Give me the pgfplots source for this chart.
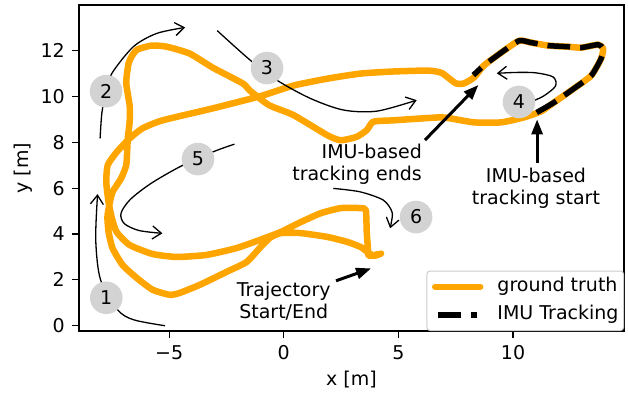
\documentclass[border=0pt]{standalone}
\usepackage{fontspec}
\setmainfont{DejaVu Sans}
\usepackage{pgfplots}
\pgfplotsset{compat=1.18}
\usetikzlibrary{arrows.meta}
\definecolor{gtorange}{HTML}{FFA500}
\definecolor{circgray}{HTML}{D3D3D3}
\definecolor{legedge}{HTML}{CCCCCC}
\newcommand\fs{\fontsize{19}{22}\selectfont}
\pgfplotsset{imu legend/.style={legend image code/.code={\draw[##1] (2.7pt,0pt) -- (42pt,0pt); \path (0pt,0pt) (59pt,0pt);}}}

\begin{document}
\begin{tikzpicture}
\begin{axis}[name=ax, width=545pt, height=326pt, scale only axis,
  xmin=-8.93, xmax=14.84, ymin=-0.23, ymax=13.99,
  axis line style={line width=1.2pt},
  tick align=outside, tick pos=left, major tick length=7pt,
  every tick/.style={black, line width=1.2pt},
  xtick={-5,0,5,10}, xticklabels={−5,0,5,10},
  ytick={0,2,4,6,8,10,12}, yticklabels={0,2,4,6,8,10,12},
  tick label style={font=\fs},
  xticklabel style={anchor=north, inner sep=0pt, yshift=-7pt},
  yticklabel style={anchor=east, inner sep=0pt, xshift=-7pt},
  xlabel={x [m]}, ylabel={y [m]},
  every axis x label/.style={at={(axis description cs:0.5,0)}, anchor=center, yshift=-49pt, font=\fs},
  every axis y label/.style={at={(axis description cs:0,0.5)}, anchor=center, rotate=90, yshift=55.5pt, font=\fs},
  legend style={at={(1,0)}, anchor=south east, draw=legedge, line width=1pt, rounded corners=3pt, fill=white,
    inner xsep=5pt, inner ysep=6.5pt, row sep=9.5pt, font=\fs,
    nodes={inner sep=0pt, text height=14pt, text depth=4.5pt}},
  legend cell align=left,
  legend image code/.code={\draw[#1] (0pt,0pt) -- (45pt,0pt); \path (59pt,0pt);},
]
% ground truth trajectory
\addplot[gtorange, line width=6.5pt, line join=round, line cap=round, smooth, tension=0.35] coordinates {
(4.25,3.15) (3.95,3.05) (3.71,3.17) (3.36,3.43) (2.79,3.65) (1.92,3.87) (0.74,4.04) (-0.13,4.04)
(-0.61,3.83) (-1.05,3.39) (-1.62,2.78) (-2.49,2.35) (-3.67,1.78) (-4.54,1.43) (-4.98,1.35) (-5.72,1.57)
(-6.42,2.09) (-7.03,2.65) (-7.47,3.39) (-7.64,4.09) (-7.69,4.75) (-7.6,5.3) (-7.47,5.83) (-7.09,6.43)
(-6.87,7.0) (-6.83,7.6) (-6.8,8.2) (-6.72,8.9) (-6.72,9.6) (-6.87,10.6) (-6.77,11.43) (-6.6,11.8)
(-6.38,12.05) (-5.76,12.22) (-5.1,12.17) (-4.1,11.87) (-3.1,11.26) (-1.79,10.57) (-1.48,10.26)
(-0.64,9.62) (0.42,9.19) (1.92,8.3) (2.49,8.09) (3.18,8.24) (3.62,8.53) (3.91,8.9) (4.8,8.96)
(5.98,9.04) (6.86,9.09) (7.29,9.04) (8.3,8.87) (9.48,8.87) (10.48,9.09) (11.22,9.35) (11.79,9.74)
(12.66,10.35) (13.41,10.91) (13.84,11.65) (13.93,12.09) (13.71,12.26) (12.97,12.13) (12.4,12.17)
(11.53,12.22) (10.79,12.35) (10.26,12.43) (9.48,11.91) (8.73,11.35) (8.3,10.83) (7.86,10.57)
(7.51,10.57) (7.16,10.83) (6.86,11.04) (6.29,11.13) (4.8,11.09) (3.36,11.0) (1.92,10.78) (0.44,10.48)
(-1.0,10.02) (-3.1,9.48) (-5.28,8.96) (-6.16,8.61) (-6.72,8.17) (-7.29,7.57) (-7.68,7.0) (-7.74,6.26)
(-7.64,5.39) (-7.5,4.7) (-7.29,4.09) (-6.72,3.52) (-5.72,3.13) (-4.67,3.0) (-3.36,3.09) (-2.05,3.39)
(-1.05,3.74) (-0.13,4.09) (0.74,4.52) (1.62,4.91) (2.49,5.13) (3.36,5.13) (3.58,5.04) (3.62,4.09)
(3.67,3.39) (3.71,3.05) (4.1,3.12)
};
\addlegendentry{ground truth}
% IMU tracking
\addplot[black, line width=5.5pt, dash pattern=on 22.7pt off 10pt, smooth, tension=0.35, imu legend] coordinates {
(11.03,9.3) (11.79,9.74) (12.66,10.35) (13.41,10.91) (13.84,11.65) (13.93,12.09) (13.71,12.26)
(12.97,12.13) (12.4,12.17) (11.53,12.22) (10.79,12.35) (10.26,12.43) (9.48,11.91) (8.73,11.35) (8.27,10.93)
};
\addlegendentry{IMU Tracking}

% thin annotation arrows
\addplot[forget plot, black, line width=1.3pt, smooth, -{Straight Barb[length=9pt 0,width=13pt 0]}] coordinates {
(-5.18,0.0) (-6.55,0.26) (-7.25,0.7) (-7.99,2.0) (-8.2,3.74) (-8.12,5.74)};
\addplot[forget plot, black, line width=1.3pt, smooth, -{Straight Barb[length=9pt 0,width=13pt 0]}] coordinates {
(-8.01,8.17) (-7.93,9.3) (-7.75,10.2) (-7.5,11.0) (-6.56,12.17) (-5.54,12.75) (-4.3,13.01)};
\addplot[forget plot, black, line width=1.3pt, smooth, -{Straight Barb[length=9pt 0,width=13pt 0]}] coordinates {
(-2.9,12.87) (-1.47,11.59) (-0.3,10.71) (1.15,9.92) (2.6,9.41) (4.06,9.36) (5.8,9.84)};
\addplot[forget plot, black, line width=1.3pt, smooth, -{Straight Barb[length=9pt 0,width=13pt 0]}] coordinates {
(10.6,9.7) (11.3,10.0) (11.85,10.45) (11.75,10.85) (11.0,11.03) (10.2,11.05) (9.29,11.01)};
\addplot[forget plot, black, line width=1.3pt, smooth, -{Straight Barb[length=9pt 0,width=13pt 0]}] coordinates {
(-2.15,7.92) (-3.07,7.59) (-4.5,6.95) (-5.8,6.2) (-6.7,5.5) (-7.1,4.9) (-6.95,4.45) (-6.3,4.15) (-5.29,4.03)};
\addplot[forget plot, black, line width=1.3pt, smooth, -{Straight Barb[length=9pt 0,width=13pt 0]}] coordinates {
(2.16,5.99) (3.33,5.84) (4.34,5.48) (4.72,4.97) (4.7,4.54) (4.64,4.25)};

% thick annotation arrows
\addplot[forget plot, black, line width=3pt, -{Triangle[length=15pt 0,width=11pt 0]}] coordinates {(6.16,8.10) (8.49,10.5)};
\addplot[forget plot, black, line width=3pt, -{Triangle[length=15pt 0,width=11pt 0]}] coordinates {(11.05,7.1) (11.05,9.0)};
\addplot[forget plot, black, line width=3pt, -{Triangle[length=15pt 0,width=11pt 0]}] coordinates {(2.28,1.96) (3.81,2.5)};

% numbered circles
\node[circle, fill=circgray, minimum size=32.6pt, inner sep=0pt, font=\fs] at (axis cs:-7.74,1.22) {1};
\node[circle, fill=circgray, minimum size=32.6pt, inner sep=0pt, font=\fs] at (axis cs:-7.75,10.23) {2};
\node[circle, fill=circgray, minimum size=32.6pt, inner sep=0pt, font=\fs] at (axis cs:-0.73,11.24) {3};
\node[circle, fill=circgray, minimum size=32.6pt, inner sep=0pt, font=\fs] at (axis cs:10.26,9.76) {4};
\node[circle, fill=circgray, minimum size=32.6pt, inner sep=0pt, font=\fs] at (axis cs:-3.74,7.27) {5};
\node[circle, fill=circgray, minimum size=32.6pt, inner sep=0pt, font=\fs] at (axis cs:5.77,4.74) {6};

% text annotations
\node[anchor=east, align=right, inner sep=0pt, font=\fs] at (axis cs:6.03,7.03) {IMU-based\\tracking ends};
\node[anchor=center, align=center, inner sep=0pt, font=\fs] at (axis cs:11.0,6.0) {IMU-based\\tracking start};
\node[anchor=center, align=center, inner sep=0pt, font=\fs] at (axis cs:0.0,1.05) {Trajectory\\Start/End};
\end{axis}
\path ([shift={(-79pt,-62pt)}]ax.south west) rectangle ([shift={(4pt,5pt)}]ax.north east);
\end{tikzpicture}
\end{document}
